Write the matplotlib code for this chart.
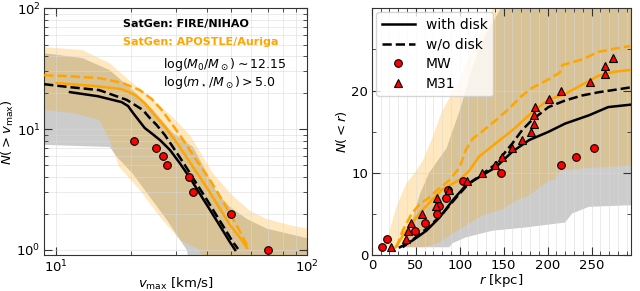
import numpy as np
import matplotlib
matplotlib.use('Agg')
import matplotlib.pyplot as plt
from matplotlib.ticker import MultipleLocator

# ---- left panel: N(>vmax) ----
# MW satellites
v_mw = [20.5, 25.0, 26.7, 27.7, 33.9, 35.1, 49.8, 70.0]
N_mw_v = [8, 7, 6, 5, 4, 3, 2, 1]

# FIRE/NIHAO (black)
v_fire_disk = [11.4, 14.7, 18.3, 19.4, 20.3, 21.4, 22.6, 24.1, 26.0, 28.5, 31.2, 34.2, 37.5, 41.1, 45.0, 49.3, 51.7]
N_fire_disk = [20.2, 18.7, 16.7, 15.5, 13.6, 11.8, 10.2, 9.2, 8.1, 6.7, 5.2, 3.94, 2.9, 2.14, 1.58, 1.16, 1.0]
v_fire_nodisk = [9.0, 11.4, 14.9, 19.2, 22.2, 23.7, 25.2, 27.2, 29.8, 32.7, 35.8, 39.3, 43.0, 47.1, 50.7, 53.1]
N_fire_nodisk = [23.5, 22.2, 21.0, 17.4, 14.4, 12.3, 10.8, 8.9, 6.7, 5.0, 3.7, 2.74, 2.02, 1.49, 1.16, 1.02]

# APOSTLE/Auriga (orange)
v_apo_disk = [10.1, 14.3, 18.3, 20.7, 22.6, 24.8, 27.2, 29.8, 32.7, 35.8, 39.3, 43.8, 49.3, 54.1, 57.7]
N_apo_disk = [24.0, 22.7, 21.4, 19.1, 16.4, 13.0, 10.4, 8.1, 6.1, 4.58, 3.45, 2.4, 1.61, 1.26, 1.04]
v_apo_nodisk = [9.0, 11.1, 14.9, 18.5, 21.6, 24.1, 26.4, 29.0, 31.8, 35.8, 41.1, 47.1, 53.1, 58.7]
N_apo_nodisk = [27.9, 27.4, 26.4, 24.0, 21.0, 17.7, 14.4, 11.0, 8.4, 5.76, 3.79, 2.36, 1.52, 1.02]

# scatter bands
v_fire_hi = [9.0, 12.8, 16.4, 20.2, 24.4, 29.2, 35.2, 39.3, 43.8, 49.3, 57.7, 69.1, 85.6, 100]
N_fire_hi = [42.4, 38.6, 30.7, 21.0, 14.4, 9.3, 7.1, 4.6, 2.96, 2.27, 1.8, 1.5, 1.35, 1.25]
v_fire_lo = [9.0, 16.4, 17.5, 20.2, 23.7, 27.7, 33.2, 36.0, 100]
N_fire_lo = [7.4, 7.1, 5.9, 4.3, 2.74, 1.77, 1.0, 0.5, 0.5]
v_apo_hi = [9.0, 12.8, 16.4, 20.2, 23.7, 29.2, 34.2, 42.2, 50.6, 59.3, 69.1, 85.6, 100]
N_apo_hi = [47.6, 45.0, 35.0, 24.0, 18.4, 12.6, 8.9, 4.3, 2.8, 2.1, 1.8, 1.6, 1.5]
v_apo_lo = [9.0, 11.9, 14.9, 16.4, 17.9, 21.6, 26.0, 31.2, 37.5, 40.0, 100]
N_apo_lo = [14.4, 13.5, 11.9, 8.1, 4.85, 3.13, 1.87, 1.21, 1.0, 0.5, 0.5]

# ---- right panel: N(<r) ----
r_mw = [12, 17, 49, 60, 74, 76, 84, 87, 104, 147, 215, 232, 253]
N_mw_r = [1, 2, 3, 4, 5, 6, 7, 8, 9, 10, 11, 12, 13]
r_m31 = [22, 39, 41, 44, 57, 73, 74, 88, 108, 125, 140, 148, 159, 171, 181, 184, 185, 186, 202, 215, 248, 265, 265, 275]
N_m31 = list(range(1, 25))

r_fire_disk = [32, 46, 62, 77, 92, 107, 122, 141, 160, 179, 201, 220, 247, 269, 295]
Nr_fire_disk = [1.0, 1.8, 3.0, 4.6, 6.7, 8.5, 9.5, 10.7, 12.6, 14.0, 15.0, 16.0, 17.0, 18.0, 18.3]
r_fire_nodisk = [35, 50, 65, 80, 95, 110, 125, 140, 150, 160, 171, 182, 201, 220, 239, 258, 277, 295]
Nr_fire_nodisk = [1.0, 2.2, 3.5, 5.0, 6.9, 8.7, 9.8, 11.0, 12.3, 13.6, 15.2, 16.4, 18.0, 18.8, 19.4, 19.8, 20.1, 20.4]
r_apo_disk = [27, 39, 54, 69, 80, 90, 100, 111, 122, 141, 160, 182, 201, 220, 239, 258, 277, 294]
Nr_apo_disk = [1.0, 3.0, 5.1, 6.8, 8.0, 8.6, 9.2, 10.3, 12.0, 13.6, 15.2, 17.3, 18.9, 19.6, 20.7, 21.8, 22.3, 22.5]
r_apo_nodisk = [28, 35, 45, 54, 65, 75, 88, 100, 107, 115, 125, 140, 156, 170, 182, 200, 214, 217, 240, 258, 277, 294]
Nr_apo_nodisk = [1.0, 3.0, 5.0, 6.2, 7.0, 8.0, 9.1, 10.7, 12.8, 14.2, 15.0, 16.3, 17.8, 19.3, 20.3, 21.3, 22.2, 23.1, 23.8, 24.7, 25.1, 25.4]

r_fire_hi = [33, 35, 45, 55, 65, 75, 85, 100, 115, 130, 147, 160, 295]
Nr_fire_hi = [1.0, 1.5, 4.0, 7.5, 10.0, 11.5, 13.0, 17.6, 22.9, 26.9, 30, 32, 32]
r_fire_lo = [33, 88, 92, 107, 137, 175, 205, 220, 228, 247, 295]
Nr_fire_lo = [1.0, 1.0, 1.5, 2.2, 3.0, 3.4, 3.8, 4.0, 5.1, 5.9, 6.1]
r_apo_hi = [12, 17, 28, 39, 50, 58, 66, 80, 100, 118, 138, 150, 295]
Nr_apo_hi = [1.0, 1.8, 5.9, 8.7, 10.2, 11.5, 13.5, 17.5, 21.3, 25.7, 30, 32, 32]
r_apo_lo = [12, 60, 75, 90, 100, 111, 125, 148, 167, 179, 198, 209, 215, 243, 295]
Nr_apo_lo = [1.0, 1.0, 1.5, 2.5, 3.2, 3.9, 4.8, 5.6, 6.8, 7.3, 8.8, 9.3, 10.3, 10.6, 10.9]

ORANGE = 'orange'


def band(ax, x_hi, y_hi, x_lo, y_lo, color, alpha):
    xs = np.r_[x_hi, x_lo[::-1]]
    ys = np.r_[y_hi, y_lo[::-1]]
    ax.fill(xs, ys, color=color, alpha=alpha, lw=0, zorder=1)


def style(ax):
    ax.tick_params(which='both', direction='in', top=True, right=True, labelsize=9.5,
                   colors='0.2', labelcolor='k', pad=2.5)
    ax.tick_params(which='major', length=6)
    ax.tick_params(which='minor', length=3)
    for s in ax.spines.values():
        s.set_color('0.2')


fig = plt.figure(figsize=(6.4, 2.91), dpi=100)
ax1 = fig.add_axes([0.069, 0.122, 0.411, 0.85])
ax2 = fig.add_axes([0.581, 0.122, 0.405, 0.85])

# left
band(ax1, v_fire_hi, N_fire_hi, v_fire_lo, N_fire_lo, '0.5', 0.4)
band(ax1, v_apo_hi, N_apo_hi, v_apo_lo, N_apo_lo, ORANGE, 0.25)
ax1.plot(v_fire_disk, N_fire_disk, 'k-', lw=1.8, zorder=3)
ax1.plot(v_fire_nodisk, N_fire_nodisk, 'k--', lw=1.8, zorder=3)
ax1.plot(v_apo_disk, N_apo_disk, '-', color=ORANGE, lw=1.8, zorder=3)
ax1.plot(v_apo_nodisk, N_apo_nodisk, '--', color=ORANGE, lw=1.8, zorder=3)
ax1.plot(v_mw, N_mw_v, 'o', color='red', mec='k', mew=0.8, ms=5.5, zorder=4)
ax1.set_xscale('log')
ax1.set_yscale('log')
ax1.set_xlim(9.0, 100)
ax1.set_ylim(0.9, 100)
ax1.grid(which='both', color='0.85', lw=0.6, alpha=0.6)
style(ax1)
ax1.set_xlabel(r'$v_{\rm max}$ [km/s]', fontsize=9.5, labelpad=0)
ax1.set_ylabel(r'$N(>v_{\rm max})$', fontsize=9.5, labelpad=0)
ax1.text(0.30, 0.925, 'SatGen: FIRE/NIHAO', transform=ax1.transAxes, fontsize=8, fontweight='bold', color='k')
ax1.text(0.30, 0.852, 'SatGen: APOSTLE/Auriga', transform=ax1.transAxes, fontsize=8, fontweight='bold', color=ORANGE)
ax1.text(0.45, 0.76, r'$\log(M_0/M_\odot)\sim12.15$', transform=ax1.transAxes, fontsize=9)
ax1.text(0.45, 0.685, r'$\log(m_\star/M_\odot)>5.0$', transform=ax1.transAxes, fontsize=9)

# right
band(ax2, r_fire_hi, Nr_fire_hi, r_fire_lo, Nr_fire_lo, '0.5', 0.4)
band(ax2, r_apo_hi, Nr_apo_hi, r_apo_lo, Nr_apo_lo, ORANGE, 0.25)
ax2.plot(r_fire_disk, Nr_fire_disk, 'k-', lw=1.8, zorder=3, label='with disk')
ax2.plot(r_fire_nodisk, Nr_fire_nodisk, 'k--', lw=1.8, zorder=3, label='w/o disk')
ax2.plot(r_apo_disk, Nr_apo_disk, '-', color=ORANGE, lw=1.8, zorder=3)
ax2.plot(r_apo_nodisk, Nr_apo_nodisk, '--', color=ORANGE, lw=1.8, zorder=3)
ax2.plot(r_mw, N_mw_r, 'o', color='red', mec='k', mew=0.8, ms=5.5, zorder=4, label='MW')
ax2.plot(r_m31, N_m31, '^', color='red', mec='k', mew=0.8, ms=5.5, zorder=4, label='M31')
ax2.set_xlim(0, 295)
ax2.set_ylim(0, 30)
ax2.set_xticks([0, 50, 100, 150, 200, 250])
ax2.set_yticks([0, 10, 20])
ax2.xaxis.set_minor_locator(MultipleLocator(10))
ax2.yaxis.set_minor_locator(MultipleLocator(5))
ax2.grid(which='major', color='0.85', lw=0.6, alpha=0.6)
ax2.xaxis.grid(which='minor', color='0.85', lw=0.6, alpha=0.6)
style(ax2)
ax2.set_xlabel(r'$r$ [kpc]', fontsize=9.5, labelpad=0)
ax2.set_ylabel(r'$N(<r)$', fontsize=9.5, labelpad=2)
ax2.legend(loc='upper left', fontsize=10, numpoints=1, handlelength=2.4, borderaxespad=0.3,
           labelspacing=0.4, edgecolor='0.8')

fig.savefig('out.png', dpi=100)
